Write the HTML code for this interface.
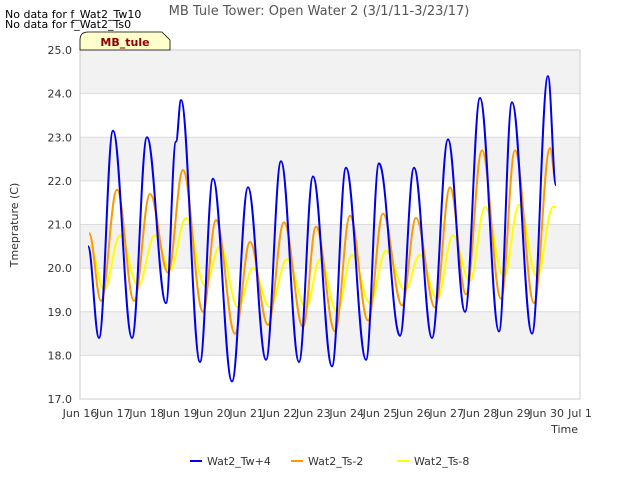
<!DOCTYPE html>
<html><head><meta charset="utf-8"><style>
body{margin:0;background:#fff;font-family:"DejaVu Sans","Liberation Sans",sans-serif;}
svg text{font-family:"DejaVu Sans","Liberation Sans",sans-serif;}
</style></head><body>
<svg id="chart" width="640" height="480" xmlns="http://www.w3.org/2000/svg">
<text x="319" y="15" text-anchor="middle" font-size="13" fill="#555">MB Tule Tower: Open Water 2 (3/1/11-3/23/17)</text>
<text x="5" y="18" font-size="11" fill="#000">No data for f_Wat2_Tw10</text>
<text x="5" y="28" font-size="11" fill="#000">No data for f_Wat2_Ts0</text>
<g id="plot"></g>
<path d="M80,50 L80,40 Q80,32 88,32 L162,32 L170,40 L170,50 Z" fill="#ffffcc" stroke="#000" stroke-width="0.8"/>
<text x="125" y="46" text-anchor="middle" font-size="11" font-weight="bold" fill="#8b0000">MB_tule</text>
<text x="18" y="225" font-size="11" fill="#333" text-anchor="middle" transform="rotate(-90 18 225)">Tmeprature (C)</text>
<text x="578" y="433" font-size="11" fill="#333" text-anchor="end">Time</text>
<g id="legend"></g>
</svg>
<script>
const xTickLabels=["Jun 16","Jun 17","Jun 18","Jun 19","Jun 20","Jun 21","Jun 22","Jun 23","Jun 24","Jun 25","Jun 26","Jun 27","Jun 28","Jun 29","Jun 30","Jul 1"];
const yTicks=[17,18,19,20,21,22,23,24,25];
const seriesNames=["Wat2_Tw+4","Wat2_Ts-2","Wat2_Ts-8"];
const seriesColors=["#0000ee","#ff9900","#ffff00"];
const twDays=[0.24,0.57,0.99,1.56,2.01,2.58,2.88,3.03,3.6,3.99,4.56,5.04,5.58,6.03,6.57,6.99,7.56,7.98,8.58,8.97,9.6,10.02,10.56,11.04,11.55,12.0,12.57,12.96,13.56,14.04,14.28];
const twVals=[20.5,18.4,23.15,18.4,23.0,19.2,22.9,23.85,17.85,22.05,17.4,21.85,17.9,22.45,17.85,22.1,17.75,22.3,17.9,22.4,18.45,22.3,18.4,22.95,19.0,23.9,18.55,23.8,18.5,24.4,21.9];
const ts2Days=[0.27,0.63,1.11,1.62,2.1,2.64,3.09,3.69,4.08,4.65,5.1,5.64,6.12,6.69,7.08,7.65,8.1,8.64,9.09,9.66,10.08,10.65,11.1,11.58,12.06,12.63,13.05,13.62,14.1,14.28];
const ts2Vals=[20.8,19.25,21.8,19.25,21.7,19.9,22.25,19.0,21.1,18.5,20.6,18.7,21.05,18.65,20.95,18.55,21.2,18.8,21.25,19.15,21.15,19.1,21.85,19.4,22.7,19.3,22.7,19.2,22.75,21.95];
const ts8Days=[0.3,0.72,1.2,1.74,2.25,2.7,3.18,3.75,4.2,4.74,5.19,5.7,6.21,6.78,7.2,7.71,8.16,8.7,9.18,9.75,10.2,10.71,11.19,11.7,12.15,12.72,13.17,13.71,14.19,14.28];
const ts8Vals=[20.5,19.5,20.75,19.6,20.75,19.95,21.15,19.6,20.5,19.1,20.0,19.1,20.2,19.1,20.2,19.0,20.3,19.2,20.4,19.5,20.3,19.3,20.75,19.7,21.4,19.8,21.45,19.8,21.4,21.4];

const NS="http://www.w3.org/2000/svg";
const X0=80,X1=580,Y0=399,Y1=50;
const xScale=d=>X0+d*(X1-X0)/15;
const yScale=v=>Y0-(v-17)*(Y0-Y1)/8;
const plot=document.getElementById('plot');
function mk(tag,attrs,parent){const e=document.createElementNS(NS,tag);for(const k in attrs)e.setAttribute(k,attrs[k]);parent.appendChild(e);return e;}
for(let i=0;i<yTicks.length-1;i++){
  if(i%2===1){const r=mk('rect',{x:X0,y:yScale(yTicks[i+1]),width:X1-X0,height:yScale(yTicks[i])-yScale(yTicks[i+1]),fill:'#f2f2f2'},plot);
  
  }
}
yTicks.forEach(v=>{
  const l=mk('line',{x1:X0,x2:X1,y1:yScale(v),y2:yScale(v),stroke:'#dcdcdc','stroke-width':1},plot);
  
  
  const t=mk('text',{x:X0-8,y:yScale(v)+4,'text-anchor':'end','font-size':11,fill:'#333'},plot);
  t.textContent=v.toFixed(1);
  
  
});
const frame=mk('rect',{x:X0,y:Y1,width:X1-X0,height:Y0-Y1,fill:'none',stroke:'#ccc'},plot);


xTickLabels.forEach((s,i)=>{
  const t=mk('text',{x:xScale(i),y:Y0+18,'text-anchor':'middle','font-size':11,fill:'#333'},plot);
  t.textContent=s;
  
  
});
function smoothPath(ds,vs){
  const p=ds.map((d,i)=>[xScale(d),yScale(vs[i])]);
  let s='M'+p[0][0]+','+p[0][1];
  for(let i=0;i<p.length-1;i++){
    const b=p[i],c=p[i+1],dx=(c[0]-b[0])/2.6;
    s+=` C${b[0]+dx},${b[1]} ${c[0]-dx},${c[1]} ${c[0]},${c[1]}`;
  }
  return s;
}
const sets=[[twDays,twVals],[ts2Days,ts2Vals],[ts8Days,ts8Vals]];
const lineNames=['line-wat2-tw4','line-wat2-ts-2','line-wat2-ts-8'];
[2,1,0].forEach(i=>{
  const p=mk('path',{d:smoothPath(sets[i][0],sets[i][1]),fill:'none',stroke:seriesColors[i],'stroke-width':2},plot);
  
  
});
const leg=document.getElementById('legend');
const lx=[190,291,397];
seriesNames.forEach((n,i)=>{
  const g=mk('g',{},leg);
  
  
  mk('line',{x1:lx[i],x2:lx[i]+12,y1:461,y2:461,stroke:seriesColors[i],'stroke-width':2},g);
  const t=mk('text',{x:lx[i]+17,y:465,'font-size':11,fill:'#333'},g);
  t.textContent=n;
});
</script>
</body></html>
